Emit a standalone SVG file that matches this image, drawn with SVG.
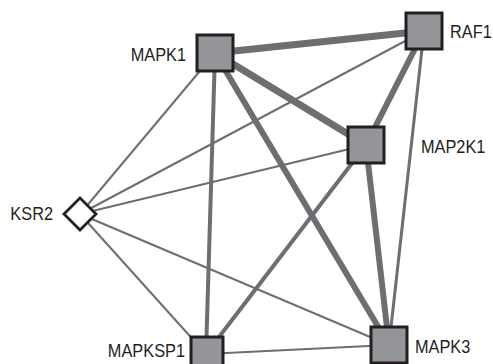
<svg xmlns="http://www.w3.org/2000/svg" width="493" height="364" viewBox="0 0 493 364">
<style>
.e{stroke:#6d6e71;stroke-linecap:butt;fill:none}
.n{fill:#939598;stroke:#231f20;stroke-width:3}
.d{fill:#ffffff;stroke:#231f20;stroke-width:2.8}
text{font-family:"Liberation Sans",Arial,sans-serif;font-size:19px;fill:#231f20}
.r{text-anchor:end}
</style>
<rect width="493" height="364" fill="#ffffff"/>
<g id="edges">
<line class="e" x1="215" y1="53" x2="424" y2="31" stroke-width="7"/>
<line class="e" x1="215" y1="53" x2="366" y2="145" stroke-width="7"/>
<line class="e" x1="215" y1="53" x2="389" y2="345" stroke-width="6"/>
<line class="e" x1="215" y1="53" x2="206" y2="354" stroke-width="4"/>
<line class="e" x1="215" y1="53" x2="80" y2="214" stroke-width="2"/>
<line class="e" x1="424" y1="31" x2="366" y2="145" stroke-width="6"/>
<line class="e" x1="424" y1="31" x2="389" y2="345" stroke-width="3"/>
<line class="e" x1="424" y1="31" x2="80" y2="214" stroke-width="2"/>
<line class="e" x1="366" y1="145" x2="389" y2="345" stroke-width="6"/>
<line class="e" x1="366" y1="145" x2="80" y2="214" stroke-width="2"/>
<line class="e" x1="366" y1="145" x2="206" y2="354" stroke-width="4"/>
<line class="e" x1="80" y1="214" x2="206" y2="354" stroke-width="2"/>
<line class="e" x1="80" y1="214" x2="389" y2="345" stroke-width="2"/>
<line class="e" x1="206" y1="354" x2="389" y2="345" stroke-width="2"/>
</g>
<g id="MAPK1"><rect class="n" x="197" y="35" width="36" height="36"/><text class="r" transform="translate(186,61) scale(0.86,1)">MAPK1</text></g>
<g id="RAF1"><rect class="n" x="406" y="13" width="36" height="36"/><text transform="translate(450,38) scale(0.86,1)">RAF1</text></g>
<g id="MAP2K1"><rect class="n" x="348" y="127" width="36" height="36"/><text transform="translate(421,153) scale(0.86,1)">MAP2K1</text></g>
<g id="KSR2"><polygon class="d" points="80,198 96,214 80,230 64,214"/><text class="r" transform="translate(53,220) scale(0.86,1)">KSR2</text></g>
<g id="MAPKSP1"><rect class="n" x="191" y="337" width="32" height="36"/><text class="r" transform="translate(185,357) scale(0.86,1)">MAPKSP1</text></g>
<g id="MAPK3"><rect class="n" x="371" y="327" width="36" height="36"/><text transform="translate(415,353) scale(0.86,1)">MAPK3</text></g>
</svg>
